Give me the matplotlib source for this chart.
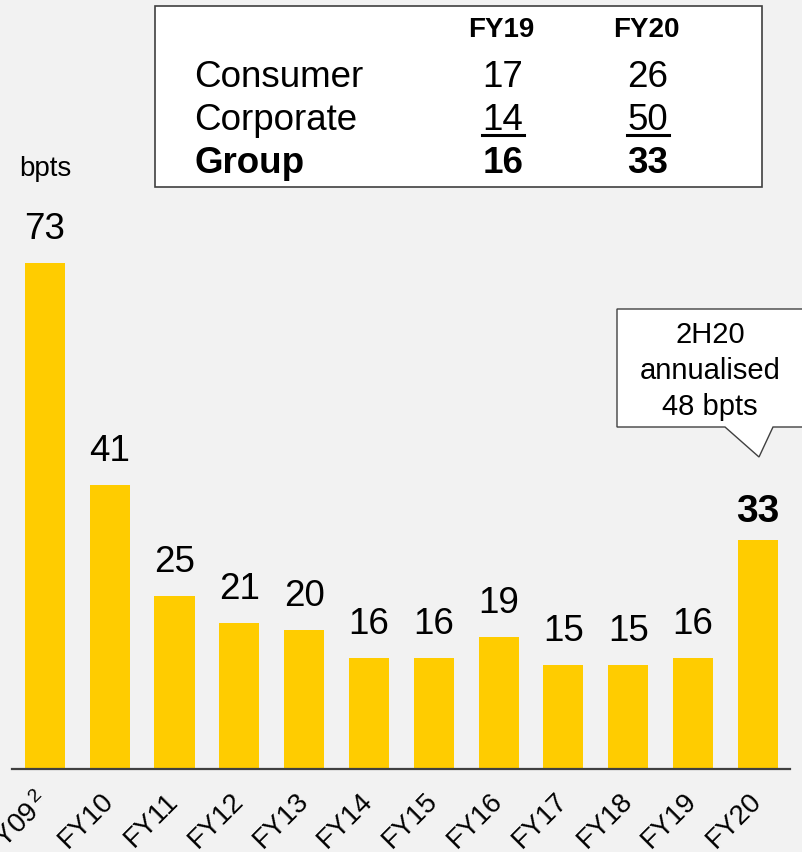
import matplotlib
matplotlib.use("Agg")
import matplotlib.pyplot as plt
import matplotlib.transforms as mtransforms
from matplotlib.patches import Rectangle, Polygon

plt.rcParams['font.family'] = ['Liberation Sans', 'DejaVu Sans']
plt.rcParams['mathtext.fontset'] = 'custom'
plt.rcParams['mathtext.rm'] = 'Liberation Sans'
plt.rcParams['mathtext.it'] = 'Liberation Sans'

# ---- data ----
categories = ['FY09$^{\\,2}$', 'FY10', 'FY11', 'FY12', 'FY13', 'FY14', 'FY15',
              'FY16', 'FY17', 'FY18', 'FY19', 'FY20']
values = [73, 41, 25, 21, 20, 16, 16, 19, 15, 15, 16, 33]

table_rows = ['Consumer', 'Corporate', 'Group']
table_cols = ['FY19', 'FY20']
table_fy19 = [17, 14, 16]
table_fy20 = [26, 50, 33]

callout_text = '2H20\nannualised\n48 bpts'
unit_label = 'bpts'

W, H = 802, 853
BG = '#f2f2f2'
BAR = '#FFCC00'

fig = plt.figure(figsize=(W / 100, H / 100), dpi=100, facecolor=BG)

def fx(px):
    return px / W

def fy(py):
    return 1 - py / H

ax = fig.add_axes([fx(12), fy(770), fx(790) - fx(12), fy(200) - fy(770)])
ax.set_facecolor(BG)
x = list(range(len(values)))
ax.bar(x, values, width=0.62, color=BAR, zorder=2)
ax.set_xlim(-0.509, 11.497)
ax.set_ylim(0, 82.25)
for s in ['left', 'right', 'top']:
    ax.spines[s].set_visible(False)
ax.spines['bottom'].set_color('#404040')
ax.spines['bottom'].set_linewidth(1.6)
ax.set_yticks([])
ax.set_xticks(x)
ax.set_xticklabels(categories, rotation=45, ha='right', va='top',
                   rotation_mode='anchor', fontsize=20)
ax.tick_params(axis='x', length=0, pad=13)
shift = mtransforms.ScaledTranslation(-9 / 100, 0, fig.dpi_scale_trans)
for lab in ax.get_xticklabels():
    lab.set_transform(lab.get_transform() + shift)

for i, v in enumerate(values):
    if i == len(values) - 1:
        ax.annotate(str(v), (i, v), xytext=(0, 14), textcoords='offset points',
                    ha='center', va='baseline', fontsize=28, fontweight='bold')
    else:
        ax.annotate(str(v), (i, v), xytext=(0, 18), textcoords='offset points',
                    ha='center', va='baseline', fontsize=26.5)

fig.text(fx(19), fy(176), unit_label, fontsize=20, ha='left', va='baseline')

# ---- table box ----
fig.patches.append(Rectangle((fx(155), fy(188)), fx(762) - fx(155), fy(7) - fy(188),
                             transform=fig.transFigure, facecolor='white',
                             edgecolor='#404040', linewidth=1.2, zorder=1))
col_x = [501, 646]
for cx, c in zip(col_x, table_cols):
    fig.text(fx(cx), fy(37), c, fontsize=20, fontweight='bold', ha='center',
             va='baseline', zorder=3)
row_y = [87, 130, 173]
for r, (name, a, b) in enumerate(zip(table_rows, table_fy19, table_fy20)):
    bold = (r == 2)
    fw = 'bold' if bold else 'normal'
    fig.text(fx(194), fy(row_y[r]), name, fontsize=26.5, fontweight=fw,
             ha='left', va='baseline', zorder=3)
    fig.text(fx(col_x[0] + 2), fy(row_y[r]), str(a), fontsize=26.5, fontweight=fw,
             ha='center', va='baseline', zorder=3)
    fig.text(fx(col_x[1] + 2), fy(row_y[r]), str(b), fontsize=26.5, fontweight=fw,
             ha='center', va='baseline', zorder=3)
    if r == 1:
        for cx in col_x:
            fig.add_artist(plt.Line2D([fx(cx - 19), fx(cx + 23)], [fy(136), fy(136)],
                                      transform=fig.transFigure, color='black',
                                      linewidth=2.2, zorder=3))

# ---- callout ----
pts = [(617, 310), (810, 310), (810, 428), (773, 428), (759, 458),
       (725, 428), (617, 428)]
fig.patches.append(Polygon([(fx(px), fy(py)) for px, py in pts], closed=True,
                           transform=fig.transFigure, facecolor='white',
                           edgecolor='#404040', linewidth=1.0, zorder=1))
fig.text(fx(710), fy(371), callout_text, fontsize=21, ha='center', va='center',
         linespacing=1.38, zorder=3)

fig.savefig('out.png', dpi=100, facecolor=BG)
